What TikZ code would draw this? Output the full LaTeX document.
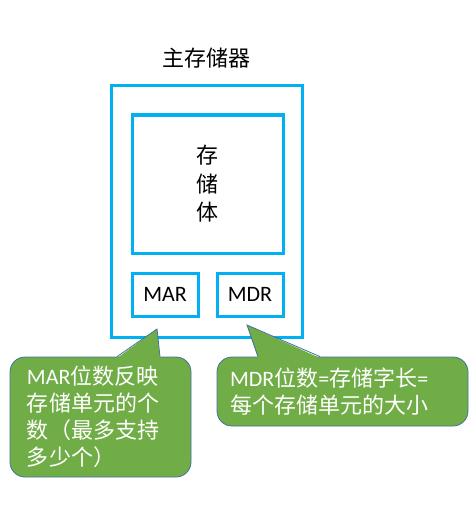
\documentclass[tikz,border=0pt]{standalone}
\usepackage{fontspec}
\setmainfont{Carlito}
\newfontfamily\cjk{Noto Sans CJK SC}
\usetikzlibrary{positioning}

\definecolor{memblue}{HTML}{00B0F0}
\definecolor{notegreen}{HTML}{70AD47}
\definecolor{noteline}{HTML}{41719C}

\begin{document}
\begin{tikzpicture}[x=1pt, y=-1pt
        , every node/.style={ font=\fontsize{22}{27}\selectfont }
        , membox/.style={ draw=memblue, line width=3pt, inner sep=0pt }
        , note/.style={ draw=noteline, line width=.8pt, fill=notegreen, rounded corners=15pt,
                        text=white, align=left, inner ysep=0pt }
        ]
        \useasboundingbox (0,0) rectangle (475,516);

        % main memory and its parts
        \node[membox, minimum width=191pt, minimum height=252pt] (mem) at (206.5,211.5) {};
        \node (title) at (206.5,58) {\cjk 主存储器};
        \node[membox, minimum width=151pt, minimum height=138pt] (body) at (207.5,184) {};
        \node[align=center, font=\fontsize{22}{28.5}\selectfont] (bodytext) at (207.5,184) {\cjk 存\\ \cjk 储\\ \cjk 体};
        \node[membox, minimum width=66pt, minimum height=43pt] (mar) at (165,294.5) {MAR};
        \node[membox, minimum width=66pt, minimum height=43pt] (mdr) at (250,294.5) {MDR};

        % notes on the two registers
        \coordinate (martip) at (157,329);
        \coordinate (mdrtip) at (247,325);
        \node[note, minimum width=181pt, minimum height=120pt, text width=147pt, inner xsep=17pt]
            (marnote) at (100.5,417) {MAR{\cjk 位数反映}\\ {\cjk 存储单元的个}\\ {\cjk 数（最多支持}\\ {\cjk 多少个）}};
        \node[note, minimum width=251pt, minimum height=69pt, text width=225pt, inner xsep=13pt]
            (mdrnote) at (342.5,391.5) {MDR{\cjk 位数}={\cjk 存储字长}=\\ {\cjk 每个存储单元的大小}};

        \fill[notegreen] ([xshift=16.5pt,yshift=-1.5pt]marnote.north) -- (martip)
            -- ([xshift=59.5pt,yshift=-1.5pt]marnote.north) -- cycle;
        \draw[noteline, line width=.8pt] ([xshift=16.5pt]marnote.north) -- (martip)
            -- ([xshift=59.5pt]marnote.north);
        \fill[notegreen] ([xshift=-84.5pt,yshift=-1.5pt]mdrnote.north) -- (mdrtip)
            -- ([xshift=-22.5pt,yshift=-1.5pt]mdrnote.north) -- cycle;
        \draw[noteline, line width=.8pt] ([xshift=-84.5pt]mdrnote.north) -- (mdrtip)
            -- ([xshift=-22.5pt]mdrnote.north);

    \end{tikzpicture}
\end{document}
